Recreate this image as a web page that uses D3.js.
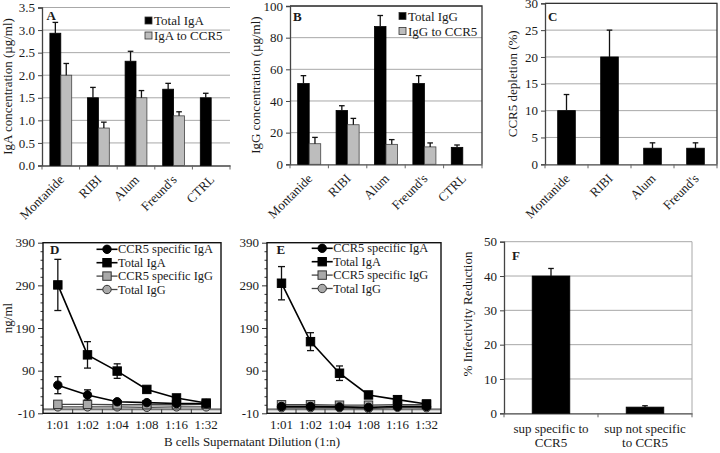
<!DOCTYPE html>
<html>
<head>
<meta charset="utf-8">
<script src="https://cdn.jsdelivr.net/npm/d3@7"></script>
<style>
  body { margin: 0; background: #fff; }
  svg { font-family: "Liberation Serif", "Times New Roman", serif; }
  text { fill: #1a1a1a; }
</style>
</head>
<body>
<svg width="720" height="453"></svg>
<script>
// ---- data ----
var vaccineGroups = ["Montanide", "RIBI", "Alum", "Freund's", "CTRL"];
var totalIgA = [2.93, 1.5, 2.31, 1.69, 1.5];
var totalIgAErr = [0.24, 0.23, 0.22, 0.13, 0.1];
var igaToCCR5 = [2.0, 0.83, 1.5, 1.1, null];
var igaToCCR5Err = [0.26, 0.13, 0.16, 0.09, null];

var totalIgG = [51, 34, 87, 51, 10.7];
var totalIgGErr = [5, 3, 7, 5, 1.5];
var iggToCCR5 = [13, 25, 12.6, 11, null];
var iggToCCR5Err = [4, 4, 3, 2.5, null];

var depletionGroups = ["Montanide", "RIBI", "Alum", "Freund's"];
var ccr5Depletion = [10, 20, 3, 3];
var ccr5DepletionErr = [3, 5, 1, 1];

var dilutions = ["1:01", "1:02", "1:04", "1:08", "1:16", "1:32"];
var dYTicks = [-10, 90, 190, 290, 390];
// panel D
var dSpecIgA = [56, 33, 17, 15, 13, 13];
var dSpecIgAErr = [20, 12, 3, 2, 2, 1];
var dTotIgA = [291, 127, 89, 46, 26, 14];
var dTotIgAErr = [60, 31, 17, 4, 3, 2];
var dSpecIgG = [11, 11, 10, 10, 10, 11];
var dTotIgG = [5, 5, 5, 4, 5, 5];
// panel E
var eSpecIgA = [6, 6, 5, 4, 6, 6];
var eTotIgA = [295, 158, 84, 33, 22, 12];
var eTotIgAErr = [39, 21, 17, 3, 2, 2];
var eSpecIgG = [10, 10, 9, 9, 10, 10];
var eTotIgG = [3, 3, 3, 1, 4, 3];

var infectGroups = ["sup specific to|CCR5", "sup not specific|to CCR5"];
var infectReduction = [40, 1.8];
var infectReductionErr = [2.2, 0.4];

var svg = d3.select("svg");
var FS = 13;

function errBar(g, cx, y0, y1, cap, col) {
  g.append("line").attr("x1", cx).attr("x2", cx).attr("y1", y0).attr("y2", y1)
    .attr("stroke", col).attr("stroke-width", 1.3);
  g.append("line").attr("x1", cx - cap).attr("x2", cx + cap).attr("y1", y1).attr("y2", y1)
    .attr("stroke", col).attr("stroke-width", 1.3);
}

// strip d3's default axis font so the page serif font is used
function plainAxis(a) {
  a.attr("font-family", null).attr("font-size", FS);
}

// bar panels A, B, C, F
function barPanel(o) {
  var g = svg.append("g");
  var x = d3.scaleBand().domain(o.cats).range([o.left, o.right]);
  var y = d3.scaleLinear().domain(o.yDomain).range([o.bottom, o.top]);

  // gridlines
  g.append("g").selectAll("line").data(o.yTicks.filter(function (d) { return d > o.yDomain[0]; }))
    .enter().append("line")
    .attr("x1", o.left).attr("x2", o.right)
    .attr("y1", function (d) { return y(d); }).attr("y2", function (d) { return y(d); })
    .attr("stroke", "#a8a8a8").attr("stroke-width", 1);

  if (o.frame) {
    g.append("path")
      .attr("d", "M" + o.left + "," + o.top + "H" + o.right + "V" + o.bottom)
      .attr("fill", "none").attr("stroke", o.frame).attr("stroke-width", 1.3);
  }

  // y axis
  var ya = g.append("g").attr("transform", "translate(" + o.left + ",0)")
    .call(d3.axisLeft(y).tickValues(o.yTicks).tickFormat(o.fmt).tickSize(4).tickPadding(3))
    .call(plainAxis);
  ya.select(".domain").attr("stroke", "#444").attr("stroke-width", 1.3);
  ya.selectAll(".tick line").attr("stroke", "#444");

  // x axis, ticks between categories
  var xa = g.append("g").attr("transform", "translate(0," + o.bottom + ")")
    .call(d3.axisBottom(x).tickSize(0).tickFormat(""));
  xa.select(".domain").attr("stroke", "#444").attr("stroke-width", 1.3);
  var edges = o.cats.map(function (c) { return x(c); }).concat([o.right]);
  g.selectAll(null).data(edges).enter().append("line")
    .attr("x1", function (d) { return d; }).attr("x2", function (d) { return d; })
    .attr("y1", o.bottom).attr("y2", o.bottom + 4)
    .attr("stroke", "#666");

  // bars
  var n = o.series.length;
  var gw = x.bandwidth() * o.groupFrac, bw = gw / n;
  o.series.forEach(function (s, i) {
    s.values.forEach(function (v, j) {
      if (v == null) return;
      var bx = x(o.cats[j]) + (x.bandwidth() - gw) / 2 + i * bw;
      g.append("rect").attr("x", bx).attr("y", y(v))
        .attr("width", bw).attr("height", y(o.yDomain[0]) - y(v))
        .attr("fill", s.fill).attr("stroke", s.stroke).attr("stroke-width", 0.8);
      if (s.err && s.err[j] != null) {
        errBar(g, bx + bw / 2, y(v), y(v + s.err[j]), 2.8, "#111");
      }
    });
  });

  // category labels
  if (o.rotate) {
    g.selectAll(null).data(o.cats).enter().append("text")
      .attr("transform", function (c) {
        return "translate(" + (x(c) + x.bandwidth() / 2 + 4) + "," + (o.bottom + 15) + ") rotate(-45)";
      })
      .attr("text-anchor", "end").attr("font-size", FS)
      .text(function (c) { return c; });
  } else {
    o.cats.forEach(function (c) {
      c.split("|").forEach(function (line, k) {
        g.append("text").attr("x", x(c) + x.bandwidth() / 2).attr("y", o.bottom + 20 + k * 14)
          .attr("text-anchor", "middle").attr("font-size", FS).text(line);
      });
    });
  }

  // y title
  g.append("text")
    .attr("transform", "translate(" + o.titleX + "," + (o.titleY || (o.top + o.bottom) / 2) + ") rotate(-90)")
    .attr("text-anchor", "middle").attr("font-size", FS).text(o.yTitle);

  // panel letter
  g.append("text").attr("x", o.left + o.letterDx).attr("y", o.letterY)
    .attr("font-weight", "bold").attr("font-size", FS).text(o.letter);

  // legend
  if (o.legend) {
    o.series.forEach(function (s, i) {
      var ly = o.legend.y + i * 15;
      g.append("rect").attr("x", o.legend.x).attr("y", ly - 8).attr("width", 7).attr("height", 7)
        .attr("fill", s.fill).attr("stroke", "#333").attr("stroke-width", 0.8);
      g.append("text").attr("x", o.legend.x + 9).attr("y", ly).attr("font-size", FS).text(s.name);
    });
  }
  return g;
}

barPanel({
  cats: vaccineGroups, left: 42, right: 230, top: 7.5, bottom: 165.5,
  yDomain: [0, 3.5], yTicks: d3.range(0, 3.51, 0.5), fmt: d3.format(".1f"),
  groupFrac: 0.58, rotate: true, frame: null,
  series: [
    { name: "Total IgA", values: totalIgA, err: totalIgAErr, fill: "#000", stroke: "#000" },
    { name: "IgA to CCR5", values: igaToCCR5, err: igaToCCR5Err, fill: "#bdbdbd", stroke: "#444" }
  ],
  yTitle: "IgA concentration (\u00b5g/ml)", titleX: 12,
  letter: "A", letterDx: 4.5, letterY: 20,
  legend: { x: 145, y: 25 }
});

barPanel({
  cats: vaccineGroups, left: 290, right: 482, top: 6, bottom: 164.3,
  yDomain: [0, 100], yTicks: d3.range(0, 101, 20), fmt: d3.format("d"),
  groupFrac: 0.6, rotate: true, frame: "#333",
  series: [
    { name: "Total IgG", values: totalIgG, err: totalIgGErr, fill: "#000", stroke: "#000" },
    { name: "IgG to CCR5", values: iggToCCR5, err: iggToCCR5Err, fill: "#bdbdbd", stroke: "#444" }
  ],
  yTitle: "IgG concentration (\u00b5g/ml)", titleX: 260,
  letter: "B", letterDx: 3, letterY: 20.5,
  legend: { x: 399, y: 20.5 }
});

barPanel({
  cats: depletionGroups, left: 545, right: 717, top: 3.3, bottom: 164.3,
  yDomain: [0, 30], yTicks: d3.range(0, 31, 5), fmt: d3.format("d"),
  groupFrac: 0.41, rotate: true, frame: "#333",
  series: [
    { name: "CCR5 depletion", values: ccr5Depletion, err: ccr5DepletionErr, fill: "#000", stroke: "#000" }
  ],
  yTitle: "CCR5 depletion (%)", titleX: 517,
  letter: "C", letterDx: 3, letterY: 20.5
});

barPanel({
  cats: infectGroups, left: 504, right: 692, top: 241.7, bottom: 413.3,
  yDomain: [0, 50], yTicks: d3.range(0, 51, 10), fmt: d3.format("d"),
  groupFrac: 0.4, rotate: false, frame: null,
  series: [
    { name: "% Infectivity Reduction", values: infectReduction, err: infectReductionErr, fill: "#000", stroke: "#000" }
  ],
  yTitle: "% Infectivity Reduction", titleX: 472, titleY: 314,
  letter: "F", letterDx: 8, letterY: 260
});
// F right border (light)
svg.append("line").attr("x1", 692).attr("x2", 692).attr("y1", 241.7).attr("y2", 413.3)
  .attr("stroke", "#a8a8a8");

// line panels D, E
function linePanel(o) {
  var g = svg.append("g");
  var x = d3.scaleBand().domain(dilutions).range([o.left, o.right]);
  var y = d3.scaleLinear().domain([-10, 390]).range([413.3, 242.7]);
  var cx = function (i) { return x(dilutions[i]) + x.bandwidth() / 2; };

  // zero line
  g.append("line").attr("x1", o.left).attr("x2", o.right).attr("y1", y(0)).attr("y2", y(0))
    .attr("stroke", "#444").attr("stroke-width", 1.2);
  g.append("line").attr("x1", o.left).attr("x2", o.right).attr("y1", y(-4)).attr("y2", y(-4))
    .attr("stroke", "#bbb").attr("stroke-width", 1);

  // minor y ticks
  var minor = d3.range(-10, 391, 20).filter(function (d) { return dYTicks.indexOf(d) < 0; });
  g.append("g").attr("transform", "translate(" + o.left + ",0)")
    .call(d3.axisLeft(y).tickValues(minor).tickSize(2.5).tickFormat(""))
    .call(function (a) { a.select(".domain").remove(); a.selectAll("line").attr("stroke", "#333"); });

  var ya = g.append("g").attr("transform", "translate(" + o.left + ",0)")
    .call(d3.axisLeft(y).tickValues(dYTicks).tickSize(5).tickPadding(3)
      .tickFormat(function (d) { return String(d); }))
    .call(plainAxis);
  ya.select(".domain").remove();
  ya.selectAll(".tick line").attr("stroke", "#333");

  // x ticks between categories, pointing up
  var edges = dilutions.map(function (c) { return x(c); }).concat([o.right]);
  g.selectAll(null).data(edges.slice(1, -1)).enter().append("line")
    .attr("x1", function (d) { return d; }).attr("x2", function (d) { return d; })
    .attr("y1", y(-10)).attr("y2", y(-10) - 4).attr("stroke", "#333");
  var xa = g.append("g").attr("transform", "translate(0," + y(-10) + ")")
    .call(d3.axisBottom(x).tickSize(0).tickPadding(6))
    .call(plainAxis);
  xa.select(".domain").remove();

  // frame
  g.append("rect").attr("x", o.left).attr("y", y(390)).attr("width", o.right - o.left)
    .attr("height", y(-10) - y(390)).attr("fill", "none").attr("stroke", "#111").attr("stroke-width", 1.4);

  var line = d3.line().x(function (d, i) { return cx(i); }).y(function (d) { return y(d); });

  function marker(sel, shape, px, py, fill, stroke) {
    if (shape === "circle") {
      sel.append("circle").attr("cx", px).attr("cy", py).attr("r", 4.2)
        .attr("fill", fill).attr("stroke", stroke).attr("stroke-width", 1);
    } else {
      sel.append("rect").attr("x", px - 4.2).attr("y", py - 4.2).attr("width", 8.4).attr("height", 8.4)
        .attr("fill", fill).attr("stroke", stroke).attr("stroke-width", 1);
    }
  }

  o.series.forEach(function (s) {
    g.append("path").datum(s.values).attr("d", line).attr("fill", "none")
      .attr("stroke", s.lineCol).attr("stroke-width", s.lw);
    s.values.forEach(function (v, i) {
      if (s.err && s.err[i] > 3) {
        errBar(g, cx(i), y(v), y(v + s.err[i]), 3.5, "#111");
        errBar(g, cx(i), y(v), y(v - s.err[i]), 3.5, "#111");
      }
      marker(g, s.shape, cx(i), y(v), s.fill, s.stroke);
    });
  });

  // legend (listed in original order)
  o.legendOrder.forEach(function (s, k) {
    var ly = o.legend.y + k * 13.4;
    g.append("line").attr("x1", o.legend.x).attr("x2", o.legend.x + 21).attr("y1", ly).attr("y2", ly)
      .attr("stroke", s.lineCol).attr("stroke-width", s.lw);
    marker(g, s.shape, o.legend.x + 10.5, ly, s.fill, s.stroke);
    g.append("text").attr("x", o.legend.x + 21.5).attr("y", ly + 4).attr("font-size", 12.4).text(s.name);
  });

  g.append("text").attr("x", o.left + o.letterDx).attr("y", 254)
    .attr("font-weight", "bold").attr("font-size", FS).text(o.letter);
}

function makeSeries(specIgA, specIgAErr, totIgA, totIgAErr, specIgG, totIgG) {
  var a = { name: "CCR5 specific IgA", values: specIgA, err: specIgAErr, shape: "circle", fill: "#000", stroke: "#000", lineCol: "#000", lw: 1.6 };
  var b = { name: "Total IgA", values: totIgA, err: totIgAErr, shape: "square", fill: "#000", stroke: "#000", lineCol: "#000", lw: 1.6 };
  var c = { name: "CCR5 specific IgG", values: specIgG, err: null, shape: "square", fill: "#a9a9a9", stroke: "#333", lineCol: "#444", lw: 1.3 };
  var d = { name: "Total IgG", values: totIgG, err: null, shape: "circle", fill: "#a9a9a9", stroke: "#333", lineCol: "#444", lw: 1.3 };
  return { draw: [d, c, a, b], legend: [a, b, c, d] };
}

var dS = makeSeries(dSpecIgA, dSpecIgAErr, dTotIgA, dTotIgAErr, dSpecIgG, dTotIgG);
linePanel({ left: 43, right: 221, series: dS.draw, legendOrder: dS.legend,
  legend: { x: 96.5, y: 249.3 }, letter: "D", letterDx: 7 });

var eS = makeSeries(eSpecIgA, null, eTotIgA, eTotIgAErr, eSpecIgG, eTotIgG);
linePanel({ left: 267, right: 441, series: eS.draw, legendOrder: eS.legend,
  legend: { x: 311.7, y: 248.3 }, letter: "E", letterDx: 9.5 });

svg.append("text").attr("transform", "translate(12,318) rotate(-90)")
  .attr("text-anchor", "middle").attr("font-size", FS).text("ng/ml");
svg.append("text").attr("x", 252).attr("y", 446).attr("text-anchor", "middle")
  .attr("font-size", FS).text("B cells Supernatant Dilution (1:n)");
</script>
</body>
</html>
